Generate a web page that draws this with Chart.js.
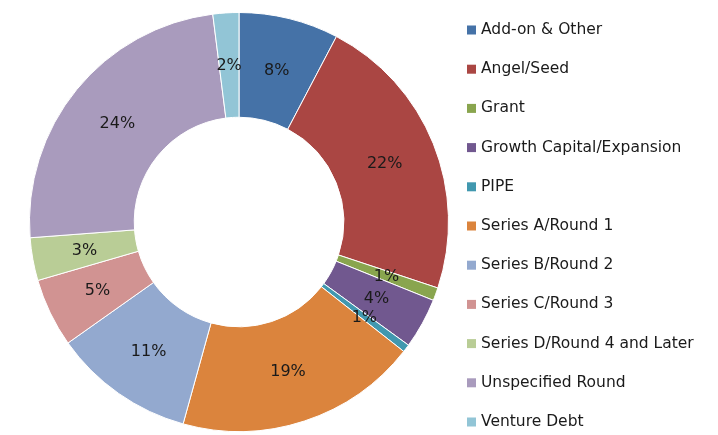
<!DOCTYPE html>
<html>
<head>
<meta charset="utf-8">
<script src="https://cdn.jsdelivr.net/npm/chart.js@4.4.0/dist/chart.umd.min.js"></script>
<style>
  html, body { margin: 0; padding: 0; background: #fff; }
  #wrap { width: 718px; height: 435px; position: relative; }
</style>
</head>
<body>
<div id="wrap"><canvas id="chart"></canvas></div>
<script>
const categories = [
  "Add-on & Other",
  "Angel/Seed",
  "Grant",
  "Growth Capital/Expansion",
  "PIPE",
  "Series A/Round 1",
  "Series B/Round 2",
  "Series C/Round 3",
  "Series D/Round 4 and Later",
  "Unspecified Round",
  "Venture Debt"
];
const shares = [7.7, 22.4, 1.0, 3.9, 0.6, 18.7, 10.9, 5.3, 3.3, 24.2, 2.0];
const colors = [
  "#4572A7", "#AA4643", "#89A54E", "#71588F", "#4198AF",
  "#DB843D", "#93A9CF", "#D19392", "#B9CD96", "#A99BBD", "#92C5D6"
];

const fontFamily = "'DejaVu Sans', sans-serif";

// percentage labels in the middle of each slice
const sliceLabels = {
  id: "sliceLabels",
  afterDatasetsDraw(chart) {
    const ctx = chart.ctx;
    const meta = chart.getDatasetMeta(0);
    const total = shares.reduce((a, b) => a + b, 0);
    ctx.save();
    ctx.font = "16px " + fontFamily;
    ctx.fillStyle = "#1a1a1a";
    ctx.textAlign = "center";
    ctx.textBaseline = "middle";
    meta.data.forEach((arc, i) => {
      const pos = arc.tooltipPosition();
      const pct = Math.round(shares[i] / total * 100);
      ctx.fillText(pct + "%", pos.x, pos.y + 1);
    });
    ctx.restore();
  }
};

// legend on the right side
const sideLegend = {
  id: "sideLegend",
  afterDraw(chart) {
    const ctx = chart.ctx;
    ctx.save();
    ctx.font = "15.5px " + fontFamily;
    ctx.textBaseline = "middle";
    categories.forEach((name, i) => {
      const y = 30 + i * 39.2;
      ctx.fillStyle = colors[i];
      ctx.fillRect(467, y - 4.5, 9, 9);
      ctx.fillStyle = "#1a1a1a";
      ctx.fillText(name, 481, y);
    });
    ctx.restore();
  }
};

new Chart(document.getElementById("chart"), {
  type: "doughnut",
  data: {
    labels: categories,
    datasets: [{
      data: shares,
      backgroundColor: colors,
      borderColor: "#ffffff",
      borderWidth: 1
    }]
  },
  options: {
    responsive: true,
    maintainAspectRatio: false,
    animation: false,
    cutout: "50%",
    layout: { padding: { left: 29, right: 269, top: 12, bottom: 3 } },
    plugins: {
      legend: { display: false },
      tooltip: { enabled: false }
    }
  },
  plugins: [sliceLabels, sideLegend]
});
</script>
</body>
</html>
